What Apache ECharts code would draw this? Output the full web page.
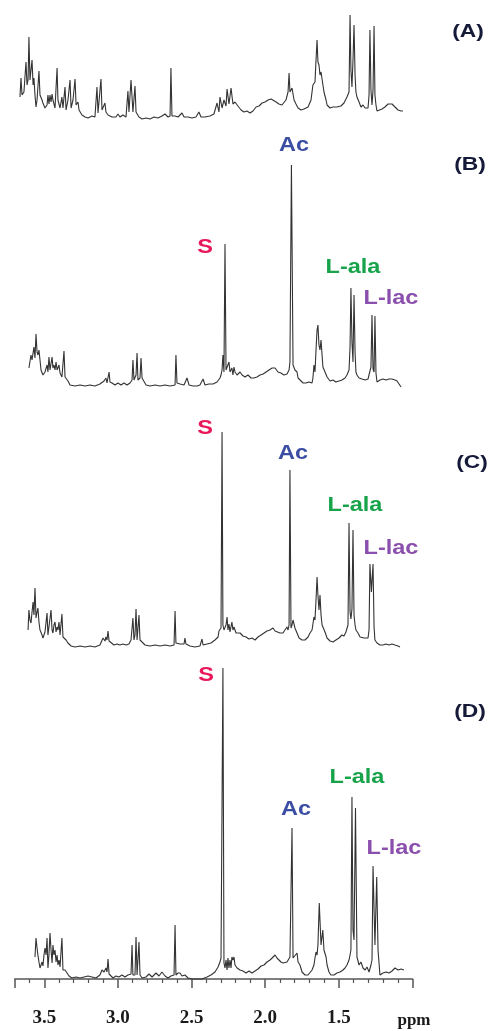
<!DOCTYPE html>
<html>
<head>
<meta charset="UTF-8">
<title>1H NMR spectra (A)-(D)</title>
<script src="https://cdn.jsdelivr.net/npm/echarts@6/dist/echarts.min.js"></script>
<style>
html, body { margin: 0; padding: 0; background: #fff; }
#chart { width: 492px; height: 1031px; }
</style>
</head>
<body>
<div id="chart"></div>
<script>
// labels
var panelNames = ['(A)', '(B)', '(C)', '(D)'];
var peakNames = ['S', 'Ac', 'L-ala', 'L-lac'];
var peakColors = ['#e8185a', '#3b4ea3', '#17a34a', '#8b4fae'];

// spectra: [ppm, intensity]
var specA = [
  [3.665,22],[3.658,41],[3.651,24],[3.638,27],[3.624,57],[3.617,34],[3.610,39],[3.604,82],[3.597,39],[3.583,59],
  [3.576,34],[3.570,41],[3.563,24],[3.556,12],[3.549,19],[3.536,48],[3.529,24],[3.522,26],[3.515,19],[3.509,16],
  [3.495,11],[3.481,14],[3.475,24],[3.468,15],[3.461,24],[3.454,17],[3.447,25],[3.441,19],[3.427,11],[3.413,51],
  [3.407,19],[3.393,11],[3.380,22],[3.373,11],[3.359,32],[3.352,9],[3.339,19],[3.325,39],[3.318,11],[3.305,19],
  [3.291,40],[3.284,14],[3.271,17],[3.264,9],[3.244,4],[3.223,2],[3.203,1],[3.176,3],[3.156,2],[3.142,32],
  [3.135,6],[3.122,5],[3.115,40],[3.108,9],[3.088,16],[3.081,7],[3.067,4],[3.040,2],[3.027,4],[3.013,2],
  [3.000,5],[2.986,2],[2.966,4],[2.945,2],[2.932,28],[2.925,7],[2.911,39],[2.898,7],[2.884,33],[2.877,7],
  [2.857,2],[2.836,0],[2.809,1],[2.782,0],[2.755,2],[2.728,1],[2.701,3],[2.680,5],[2.660,2],[2.646,3],
  [2.640,51],[2.633,3],[2.612,3],[2.592,2],[2.565,6],[2.551,2],[2.524,2],[2.497,1],[2.470,2],[2.450,7],
  [2.436,2],[2.409,2],[2.375,3],[2.348,5],[2.327,16],[2.314,7],[2.307,22],[2.293,11],[2.280,19],[2.266,13],
  [2.259,30],[2.246,15],[2.232,31],[2.219,15],[2.205,17],[2.185,13],[2.164,9],[2.144,7],[2.124,8],[2.103,6],
  [2.083,8],[2.062,12],[2.042,13],[2.021,16],[2.001,17],[1.981,19],[1.960,20],[1.947,18],[1.926,17],[1.907,15],
  [1.886,14],[1.873,16],[1.859,19],[1.845,27],[1.838,46],[1.832,27],[1.818,31],[1.804,19],[1.791,15],[1.777,11],
  [1.757,9],[1.737,10],[1.709,12],[1.689,19],[1.676,34],[1.662,37],[1.655,59],[1.648,79],[1.642,57],[1.635,54],
  [1.628,44],[1.621,47],[1.614,49],[1.608,34],[1.601,27],[1.587,19],[1.580,14],[1.560,11],[1.540,12],[1.513,12],
  [1.486,13],[1.465,16],[1.445,22],[1.431,27],[1.424,104],[1.418,49],[1.411,32],[1.404,59],[1.397,94],[1.390,44],
  [1.384,27],[1.377,22],[1.363,17],[1.350,12],[1.336,14],[1.322,11],[1.309,9],[1.302,11],[1.295,24],[1.289,89],
  [1.282,29],[1.275,14],[1.268,29],[1.261,93],[1.255,24],[1.248,14],[1.241,8],[1.228,9],[1.207,10],[1.187,12],
  [1.166,15],[1.153,16],[1.139,15],[1.119,12],[1.098,9],[1.078,8],[1.065,8]
];
var specB = [
  [3.604,19],[3.590,32],[3.583,27],[3.570,40],[3.563,29],[3.556,53],[3.549,35],[3.543,32],[3.536,37],[3.522,17],
  [3.509,12],[3.495,15],[3.481,22],[3.475,15],[3.468,30],[3.461,17],[3.447,30],[3.441,19],[3.434,22],[3.427,17],
  [3.420,25],[3.413,17],[3.400,22],[3.393,14],[3.380,10],[3.373,12],[3.366,36],[3.359,10],[3.352,9],[3.339,6],
  [3.325,2],[3.291,1],[3.257,2],[3.223,1],[3.189,2],[3.156,1],[3.122,3],[3.094,6],[3.081,9],[3.074,4],
  [3.060,15],[3.054,5],[3.040,4],[3.020,2],[3.000,4],[2.979,2],[2.959,4],[2.938,2],[2.918,4],[2.904,7],
  [2.898,27],[2.891,7],[2.877,12],[2.870,34],[2.864,7],[2.850,9],[2.843,29],[2.836,9],[2.830,7],[2.809,2],
  [2.782,1],[2.748,2],[2.714,1],[2.680,2],[2.646,1],[2.612,2],[2.606,32],[2.599,4],[2.578,3],[2.551,2],
  [2.531,9],[2.517,2],[2.490,1],[2.463,1],[2.443,2],[2.422,8],[2.409,2],[2.382,3],[2.354,3],[2.327,5],
  [2.307,9],[2.300,12],[2.293,17],[2.287,32],[2.280,15],[2.273,143],[2.266,17],[2.253,19],[2.246,25],[2.239,15],
  [2.226,19],[2.219,12],[2.212,20],[2.205,15],[2.191,12],[2.171,15],[2.157,12],[2.137,10],[2.117,12],[2.096,9],
  [2.076,9],[2.056,10],[2.035,12],[2.014,13],[1.994,15],[1.974,17],[1.953,19],[1.933,19],[1.913,15],[1.893,14],
  [1.873,12],[1.852,13],[1.838,17],[1.832,25],[1.822,222],[1.811,22],[1.804,22],[1.798,17],[1.784,15],[1.777,9],
  [1.764,7],[1.743,4],[1.723,4],[1.703,5],[1.682,4],[1.676,9],[1.669,22],[1.662,15],[1.655,37],[1.648,57],
  [1.642,62],[1.635,42],[1.628,37],[1.621,47],[1.614,32],[1.608,20],[1.594,15],[1.580,10],[1.560,6],[1.540,7],
  [1.520,5],[1.499,6],[1.479,7],[1.458,9],[1.445,12],[1.438,14],[1.431,17],[1.424,40],[1.418,99],[1.411,45],
  [1.404,25],[1.397,92],[1.390,35],[1.384,15],[1.377,12],[1.363,9],[1.343,8],[1.322,7],[1.302,8],[1.289,10],
  [1.282,20],[1.275,72],[1.268,18],[1.261,15],[1.255,71],[1.248,14],[1.241,5],[1.221,7],[1.200,8],[1.180,7],
  [1.159,8],[1.139,8],[1.119,7],[1.105,6],[1.092,4],[1.078,0]
];
var specC = [
  [3.610,17],[3.604,37],[3.597,27],[3.590,24],[3.583,35],[3.576,45],[3.570,32],[3.563,59],[3.556,29],[3.549,35],
  [3.543,39],[3.536,25],[3.529,17],[3.515,12],[3.509,9],[3.495,15],[3.481,34],[3.475,12],[3.468,10],[3.454,37],
  [3.447,17],[3.441,14],[3.434,22],[3.427,25],[3.420,15],[3.413,20],[3.407,17],[3.400,25],[3.393,12],[3.380,33],
  [3.373,10],[3.366,10],[3.352,7],[3.339,4],[3.318,1],[3.291,0],[3.257,1],[3.223,0],[3.189,1],[3.156,0],
  [3.122,2],[3.101,9],[3.088,6],[3.081,10],[3.074,7],[3.067,16],[3.060,6],[3.047,4],[3.027,2],[3.006,3],
  [2.986,2],[2.966,3],[2.945,2],[2.925,3],[2.911,7],[2.898,29],[2.891,7],[2.884,12],[2.877,38],[2.870,7],
  [2.864,7],[2.857,32],[2.850,7],[2.836,5],[2.816,2],[2.782,1],[2.748,2],[2.714,1],[2.680,2],[2.646,1],
  [2.619,2],[2.612,36],[2.606,4],[2.578,3],[2.551,3],[2.545,9],[2.538,3],[2.511,1],[2.477,0],[2.443,1],
  [2.429,8],[2.422,2],[2.395,3],[2.368,4],[2.341,7],[2.320,10],[2.314,16],[2.307,17],[2.300,19],[2.293,215],
  [2.287,22],[2.280,17],[2.273,19],[2.266,22],[2.259,30],[2.253,17],[2.246,23],[2.239,15],[2.226,25],[2.219,17],
  [2.212,20],[2.198,14],[2.185,13],[2.171,14],[2.151,11],[2.130,10],[2.110,8],[2.090,9],[2.069,7],[2.049,10],
  [2.028,12],[2.008,14],[1.988,16],[1.967,17],[1.947,19],[1.933,16],[1.920,17],[1.900,14],[1.879,14],[1.866,17],
  [1.852,20],[1.845,17],[1.838,22],[1.832,177],[1.825,19],[1.818,22],[1.811,27],[1.804,27],[1.798,19],[1.784,14],
  [1.770,9],[1.750,7],[1.730,7],[1.709,10],[1.696,14],[1.682,17],[1.669,30],[1.662,27],[1.655,47],[1.648,70],
  [1.642,52],[1.635,37],[1.628,52],[1.621,32],[1.614,22],[1.608,20],[1.594,15],[1.580,9],[1.560,6],[1.540,5],
  [1.520,7],[1.499,9],[1.479,12],[1.465,11],[1.452,15],[1.445,17],[1.438,22],[1.431,124],[1.424,35],[1.418,28],
  [1.411,38],[1.404,117],[1.397,32],[1.390,22],[1.384,17],[1.370,14],[1.356,10],[1.343,12],[1.329,9],[1.316,7],
  [1.302,9],[1.295,17],[1.289,83],[1.279,55],[1.268,83],[1.261,20],[1.255,7],[1.241,4],[1.221,2],[1.200,2],
  [1.180,3],[1.159,2],[1.139,3],[1.119,2],[1.098,1],[1.085,0]
];
var specD = [
  [3.563,22],[3.556,41],[3.549,31],[3.543,24],[3.536,17],[3.529,11],[3.515,17],[3.509,13],[3.502,24],[3.495,31],
  [3.488,24],[3.481,41],[3.475,11],[3.468,24],[3.461,46],[3.454,29],[3.447,16],[3.441,34],[3.434,24],[3.427,29],
  [3.420,17],[3.413,24],[3.407,14],[3.400,19],[3.393,12],[3.386,14],[3.380,41],[3.373,9],[3.359,9],[3.346,7],
  [3.332,3],[3.312,1],[3.284,2],[3.257,1],[3.230,2],[3.203,3],[3.176,2],[3.149,1],[3.122,4],[3.108,9],
  [3.094,7],[3.081,11],[3.074,7],[3.067,20],[3.060,5],[3.054,3],[3.033,1],[3.013,3],[2.993,2],[2.972,4],
  [2.952,2],[2.932,4],[2.911,5],[2.904,34],[2.898,4],[2.884,4],[2.877,42],[2.870,4],[2.864,4],[2.857,37],
  [2.850,4],[2.836,1],[2.809,2],[2.789,5],[2.768,2],[2.741,6],[2.721,3],[2.701,7],[2.680,3],[2.660,1],
  [2.640,3],[2.619,4],[2.612,54],[2.606,4],[2.592,6],[2.578,6],[2.565,3],[2.545,4],[2.524,1],[2.497,0],
  [2.463,0],[2.429,0],[2.395,2],[2.368,4],[2.341,7],[2.320,12],[2.307,17],[2.300,21],[2.293,19],[2.287,311],
  [2.280,16],[2.273,11],[2.266,19],[2.259,9],[2.253,21],[2.246,11],[2.239,19],[2.232,11],[2.226,22],[2.219,19],
  [2.212,22],[2.205,14],[2.191,11],[2.171,9],[2.151,8],[2.130,6],[2.110,8],[2.090,6],[2.069,8],[2.049,10],
  [2.028,13],[2.008,14],[1.988,17],[1.967,19],[1.953,21],[1.933,24],[1.920,21],[1.907,19],[1.893,17],[1.879,16],
  [1.866,17],[1.852,17],[1.845,19],[1.832,22],[1.825,24],[1.818,151],[1.811,21],[1.798,21],[1.784,26],[1.777,17],
  [1.764,14],[1.750,7],[1.730,4],[1.709,4],[1.696,4],[1.682,9],[1.669,14],[1.662,21],[1.655,27],[1.648,24],
  [1.642,34],[1.633,76],[1.621,34],[1.609,49],[1.601,29],[1.587,22],[1.580,14],[1.567,7],[1.554,4],[1.533,4],
  [1.513,6],[1.492,7],[1.472,9],[1.458,11],[1.445,14],[1.431,19],[1.424,24],[1.418,29],[1.411,182],[1.404,49],
  [1.397,39],[1.387,171],[1.377,22],[1.363,14],[1.350,17],[1.336,11],[1.322,9],[1.309,12],[1.295,7],[1.282,14],
  [1.275,19],[1.268,113],[1.255,34],[1.243,102],[1.234,29],[1.221,4],[1.200,6],[1.180,7],[1.159,6],[1.139,8],
  [1.119,11],[1.098,9],[1.078,10],[1.058,9]
];
var spectra = [specA, specB, specC, specD];

// panel boxes (px): top, height
var panelTop = [0, 130, 400, 660];
var panelHeight = [119, 257, 247, 319];
var panelLabelPos = [[468, 32], [470, 165], [472, 463], [470, 712]];
// label centres for S, Ac, L-ala, L-lac in panels B, C, D
var peakLabelPos = [
  null,
  [[205, 247], [294, 145], [353, 267], [391, 298]],
  [[205, 428], [293, 453], [355, 505], [391, 548]],
  [[206, 675], [296, 809], [357, 777], [394, 848]]
];

var grids = [], xAxes = [], yAxes = [], series = [], graphics = [];
for (var i = 0; i < 4; i++) {
  grids.push({left: 14.8, width: 397.7, top: panelTop[i], height: panelHeight[i]});
  xAxes.push({
    gridIndex: i, type: 'value', min: 1.0, max: 3.7, interval: 0.5, inverse: true,
    show: i === 3, offset: 12,
    axisLine: {lineStyle: {color: '#555', width: 1.5}},
    axisTick: {length: 9, lineStyle: {color: '#555', width: 1.5}},
    minorTick: {show: true, splitNumber: 5, length: 4, lineStyle: {color: '#555', width: 1.2}},
    splitLine: {show: false},
    axisLabel: {
      margin: 18, color: '#1a1a1a', fontFamily: 'Liberation Serif', fontWeight: 'bold', fontSize: 19,
      formatter: function (v) { return (v < 1.2 || v > 3.6) ? '' : v.toFixed(1); }
    }
  });
  yAxes.push({gridIndex: i, type: 'value', min: 0, max: panelHeight[i], show: false});
  series.push({
    type: 'line', xAxisIndex: i, yAxisIndex: i, data: spectra[i],
    symbol: 'none', clip: false, silent: true,
    lineStyle: {color: '#333', width: 1.1}
  });
  graphics.push({
    type: 'text', x: panelLabelPos[i][0], y: panelLabelPos[i][1], scaleX: 1.2,
    style: {text: panelNames[i], fill: '#151a38', font: 'bold 19px "Liberation Sans"',
            align: 'center', verticalAlign: 'middle'}
  });
  if (peakLabelPos[i]) {
    for (var k = 0; k < 4; k++) {
      graphics.push({
        type: 'text', x: peakLabelPos[i][k][0], y: peakLabelPos[i][k][1], scaleX: 1.12,
        style: {text: peakNames[k], fill: peakColors[k], font: 'bold 21px "Liberation Sans"',
                align: 'center', verticalAlign: 'middle'}
      });
    }
  }
}
graphics.push({
  type: 'text', x: 414, y: 1021,
  style: {text: 'ppm', fill: '#1a1a1a', font: 'bold 17px "Liberation Serif"',
          align: 'center', verticalAlign: 'middle'}
});

var myChart = echarts.init(document.getElementById('chart'));
myChart.setOption({
  animation: false,
  backgroundColor: '#fff',
  grid: grids,
  xAxis: xAxes,
  yAxis: yAxes,
  series: series,
  graphic: graphics
});
</script>
</body>
</html>
